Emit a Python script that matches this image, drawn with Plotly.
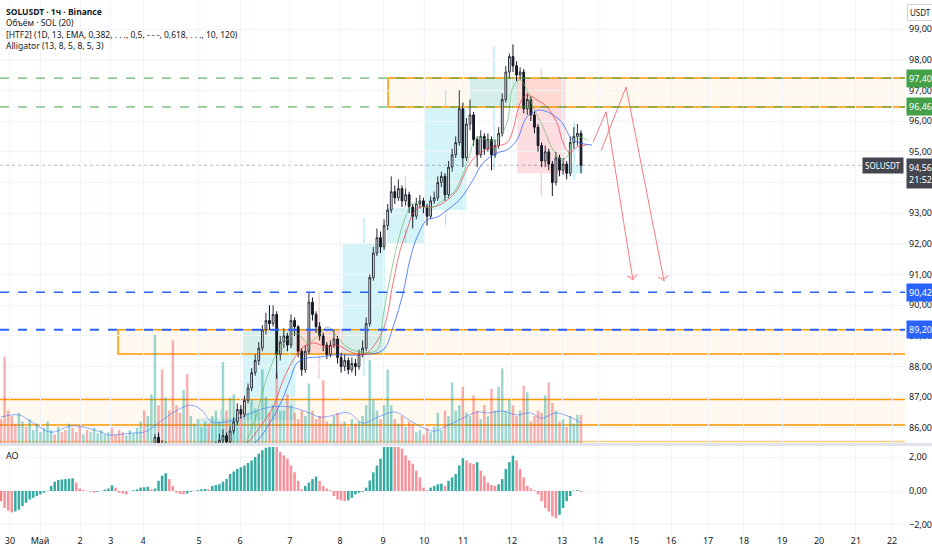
# SOLUSDT 1h chart (Binance) rebuilt from a TradingView screenshot
# bars are 2h buckets here

import plotly.graph_objects as go

# ---- candles ----
opens = [85.1, 84.9, 84.5, 84.2, 83.9, 83.8, 83.9, 84.1, 84.0, 84.3,
         84.5, 84.6, 84.8, 84.9, 85.1, 85.2, 85.0, 85.1, 84.9, 84.8,
         85.0, 84.9, 84.6, 84.4, 84.5, 84.3, 84.4, 84.5, 84.6, 84.7,
         84.8, 84.9, 84.7, 84.5, 84.4, 84.3, 84.5, 84.6, 84.7, 84.8,
         84.9, 84.8, 84.9, 85.0, 85.7, 85.2, 85.0, 85.3, 85.0, 84.7,
         84.5, 84.4, 84.5, 84.35, 84.7, 84.8, 84.9, 85.0, 85.1, 85.0,
         85.2, 85.4, 85.6, 85.75, 85.55, 85.9, 86.2, 86.6, 86.45, 86.9,
         87.3, 87.8, 88.2, 88.6, 89.2, 89.5, 89.4, 89.7, 88.4, 88.8,
         89.0, 88.7, 89.5, 89.3, 88.5, 87.9, 88.5, 90.1, 89.7, 89.3,
         89.0, 88.7, 88.4, 88.7, 88.9, 88.3, 88.0, 88.2, 87.9, 88.1,
         88.0, 88.4, 88.6, 89.4, 90.9, 91.7, 92.2, 91.9, 92.6, 93.1,
         93.7, 93.5, 93.8, 93.4, 93.6, 93.2, 92.9, 93.3, 93.4, 93.2,
         92.9, 93.4, 93.5, 94.0, 94.2, 93.6, 94.5, 94.9, 95.3, 96.4,
         94.8, 95.9, 96.2, 95.4, 94.9, 95.5, 95.1, 95.4, 94.9, 95.2,
         95.6, 96.7, 97.6, 98.1, 97.8, 97.5, 97.6, 96.4, 96.7, 96.2,
         95.8, 95.2, 94.7, 95.0, 94.6, 94.0, 94.8, 94.4, 94.6, 94.3,
         95.3, 95.5, 95.6]
highs = [85.3, 85.1, 84.7, 84.4, 84.1, 84.1, 84.3, 84.3, 84.5, 84.7,
         84.8, 85.0, 85.1, 85.3, 85.4, 85.4, 85.3, 85.3, 85.1, 85.2,
         85.2, 85.1, 84.8, 84.7, 84.7, 84.6, 84.7, 84.8, 84.9, 85.0,
         85.1, 85.1, 84.9, 84.7, 84.6, 84.7, 84.8, 84.9, 85.0, 85.1,
         85.1, 85.1, 85.2, 85.8, 85.85, 85.6, 85.55, 85.45, 85.2, 84.9,
         84.7, 84.7, 84.6, 84.9, 85.0, 85.1, 85.2, 85.3, 85.3, 85.4,
         85.55, 85.8, 85.95, 85.85, 86.05, 86.35, 86.8, 86.75, 87.05, 87.45,
         87.95, 88.4, 88.8, 89.35, 89.75, 90.0, 90.0, 89.8, 89.0, 89.25,
         89.1, 89.7, 89.6, 89.35, 88.6, 88.7, 90.4, 90.25, 89.8, 89.45,
         89.1, 88.8, 88.85, 89.2, 89.0, 88.45, 88.4, 88.3, 88.3, 88.25,
         88.55, 88.85, 89.6, 91.0, 91.9, 92.5, 92.4, 92.8, 93.3, 94.2,
         93.9, 94.1, 93.9, 93.8, 93.7, 93.3, 93.5, 93.6, 93.5, 93.3,
         93.55, 93.7, 94.2, 94.35, 94.3, 94.7, 95.1, 95.5, 97.0, 96.6,
         96.1, 96.7, 96.3, 95.5, 95.7, 95.6, 95.6, 95.5, 95.4, 95.8,
         96.9, 97.8, 98.2, 98.5, 97.95, 97.75, 97.7, 96.9, 96.8, 96.3,
         95.9, 95.3, 95.2, 95.1, 94.7, 95.0, 94.9, 94.8, 94.7, 95.5,
         95.8, 95.9, 95.7]
lows = [84.7, 84.3, 84.0, 83.7, 83.6, 83.6, 83.7, 83.8, 83.8, 84.1,
        84.3, 84.4, 84.6, 84.7, 84.9, 84.8, 84.8, 84.7, 84.6, 84.6,
        84.7, 84.4, 84.2, 84.2, 84.1, 84.1, 84.2, 84.3, 84.4, 84.5,
        84.6, 84.5, 84.3, 84.2, 84.1, 84.1, 84.3, 84.4, 84.5, 84.6,
        84.6, 84.6, 84.7, 84.9, 85.1, 84.8, 84.8, 84.8, 84.5, 84.3,
        84.2, 84.2, 84.15, 84.2, 84.5, 84.6, 84.7, 84.8, 84.8, 84.8,
        85.0, 85.3, 85.5, 85.4, 85.5, 85.8, 86.1, 86.3, 86.35, 86.8,
        87.2, 87.7, 88.05, 88.5, 89.05, 89.2, 89.3, 87.6, 88.2, 88.6,
        88.5, 88.6, 89.0, 88.3, 87.7, 87.8, 88.4, 89.5, 89.1, 88.85,
        88.5, 88.25, 88.3, 88.6, 88.1, 87.8, 87.85, 87.75, 87.8, 87.7,
        87.9, 88.3, 88.5, 89.3, 90.8, 91.6, 91.7, 91.8, 92.45, 93.0,
        93.3, 93.4, 93.2, 93.25, 93.0, 92.5, 92.8, 93.15, 93.0, 92.6,
        92.8, 93.3, 93.4, 93.85, 93.4, 93.5, 94.35, 94.8, 95.2, 94.5,
        94.7, 95.7, 95.2, 94.5, 94.8, 94.9, 95.0, 94.4, 94.8, 95.1,
        95.5, 96.6, 97.4, 97.6, 97.3, 97.35, 96.25, 96.2, 96.0, 95.6,
        95.0, 94.5, 94.5, 94.4, 93.56, 93.9, 94.2, 94.25, 94.1, 94.2,
        95.1, 95.2, 94.3]
closes = [84.9, 84.5, 84.2, 83.9, 83.8, 83.9, 84.1, 84.0, 84.3, 84.5,
          84.6, 84.8, 84.9, 85.1, 85.2, 85.0, 85.1, 84.9, 84.8, 85.0,
          84.9, 84.6, 84.4, 84.5, 84.3, 84.4, 84.5, 84.6, 84.7, 84.8,
          84.9, 84.7, 84.5, 84.4, 84.3, 84.5, 84.6, 84.7, 84.8, 84.9,
          84.8, 84.9, 85.0, 85.7, 85.2, 85.0, 85.3, 85.0, 84.7, 84.5,
          84.4, 84.5, 84.35, 84.7, 84.8, 84.9, 85.0, 85.1, 85.0, 85.2,
          85.4, 85.6, 85.75, 85.55, 85.9, 86.2, 86.6, 86.45, 86.9, 87.3,
          87.8, 88.2, 88.6, 89.2, 89.5, 89.4, 89.7, 88.4, 88.8, 89.0,
          88.7, 89.5, 89.3, 88.5, 87.9, 88.5, 90.1, 89.7, 89.3, 89.0,
          88.7, 88.4, 88.7, 88.9, 88.3, 88.0, 88.2, 87.9, 88.1, 88.0,
          88.4, 88.6, 89.4, 90.9, 91.7, 92.2, 91.9, 92.6, 93.1, 93.7,
          93.5, 93.8, 93.4, 93.6, 93.2, 92.9, 93.3, 93.4, 93.2, 92.9,
          93.4, 93.5, 94.0, 94.2, 93.6, 94.5, 94.9, 95.3, 96.4, 94.8,
          95.9, 96.2, 95.4, 94.9, 95.5, 95.1, 95.4, 94.9, 95.2, 95.6,
          96.7, 97.6, 98.1, 97.8, 97.5, 97.6, 96.4, 96.7, 96.2, 95.8,
          95.2, 94.7, 95.0, 94.6, 94.0, 94.8, 94.4, 94.6, 94.3, 95.3,
          95.5, 95.6, 94.56]

# volume, thousands SOL
volumes = [22, 80, 30, 25, 18, 28, 20, 15, 22, 12,
           18, 10, 14, 20, 12, 8, 15, 10, 12, 18,
           14, 10, 16, 8, 12, 10, 14, 9, 12, 8,
           10, 14, 8, 12, 10, 7, 12, 9, 14, 20,
           30, 25, 45, 100, 35, 68, 42, 30, 95, 35,
           28, 49, 64, 25, 18, 22, 15, 20, 18, 25,
           30, 20, 75, 30, 42, 45, 25, 30, 35, 28,
           40, 32, 30, 68, 43, 28, 35, 65, 30, 30,
           45, 35, 28, 22, 30, 25, 55, 30, 22, 25,
           58, 20, 18, 25, 28, 18, 20, 15, 22, 18,
           20, 25, 35, 77, 40, 30, 22, 35, 68, 35,
           22, 18, 25, 15, 20, 18, 10, 12, 8, 14,
           10, 15, 28, 12, 30, 25, 56, 30, 35, 52,
           28, 25, 44, 30, 22, 35, 25, 50, 30, 52,
           69, 30, 40, 35, 25, 30, 53, 47, 20, 25,
           30, 28, 44, 56, 37, 30, 20, 22, 15, 25,
           18, 26, 26]

# volume MA(20) read at a few bars
vol_ma_x = [0, 5, 9, 14, 20, 28, 30, 37, 40, 44, 48, 53, 56, 59, 65, 70, 74, 78, 82, 86,
            89, 92, 97, 101, 106, 110, 114, 118, 121, 125, 129, 133, 136, 140, 144, 148, 151, 155, 159, 162]
vol_ma = [24, 26, 18.5, 10, 16, 10, 7.5, 9.3, 10, 18.5, 28, 35, 30.5, 19.4, 21.3, 28, 32.4, 34, 32.4, 28,
          24, 25, 28, 18.5, 25, 28.7, 21.3, 13.9, 11, 16.7, 23, 28.7, 27.8, 29.6, 26, 27.8, 23, 27.8, 24, 18.5]

# Awesome Oscillator
ao = [-0.6, -1.0, -1.15, -1.26, -1.2, -1.1, -0.88, -0.7, -0.5, -0.4,
      -0.3, -0.2, -0.1, 0.02, 0.3, 0.55, 0.65, 0.68, 0.7, 0.72,
      0.75, 0.5, 0.15, 0.05, 0.02, -0.05, -0.1, -0.05, 0.01, 0.08,
      0.15, 0.34, 0.2, -0.1, -0.15, -0.2, 0.01, 0.05, 0.1, 0.2,
      0.22, 0.25, 0.1, 0.15, 0.6, 0.9, 1.05, 0.7, 0.3, -0.1,
      -0.18, -0.2, -0.15, -0.05, 0.01, 0.05, 0.1, 0.12, 0.1, 0.3,
      0.35, 0.4, 0.55, 0.7, 1.0, 1.15, 1.3, 1.4, 1.5, 1.65,
      1.8, 2.0, 2.2, 2.4, 2.55, 2.7, 2.8, 2.7, 2.3, 2.1,
      1.9, 1.5, 1.1, 0.6, 0.1, 0.3, 0.5, 0.7, 0.85, 0.6,
      0.3, 0.15, 0.05, -0.3, -0.5, -0.55, -0.6, -0.55, -0.4, -0.2,
      -0.1, -0.05, 0.2, 0.62, 1.1, 1.5, 1.9, 2.6, 2.8, 2.9,
      2.85, 2.75, 2.5, 2.1, 1.8, 1.6, 1.2, 0.8, 0.2, 0.05,
      0.2, 0.3, 0.4, 0.43, 0.3, 0.6, 0.8, 1.0, 1.5, 1.93,
      1.8, 1.65, 1.6, 1.7, 1.2, 0.9, 0.5, 0.35, 0.3, 0.4,
      0.7, 1.3, 1.7, 2.08, 1.8, 1.3, 0.8, 0.3, 0.15, 0.05,
      -0.2, -0.6, -1.0, -1.2, -1.5, -1.6, -1.4, -1.0, -0.6, -0.3,
      0.02, 0.05, -0.05]

# Alligator (13, 8, 5, 8, 5, 3)
jaw_x = [63, 70.9, 75.1, 78.5, 80.7, 82.7, 85.5, 89.1, 92.7, 100.3, 106.7, 109.5, 112.3, 114.2, 116.2,
         119, 121.8, 124.6, 128.2, 131.8, 134.6, 138.5, 141.3, 144.1, 146.9, 150.6, 156.1, 159.8, 165.1]
jaw = [85.0, 85.51, 86.16, 86.91, 87.56, 88.12, 88.28, 88.31, 88.38, 88.38, 88.54, 89.29, 90.40, 91.47, 92.22,
       92.78, 92.87, 93.10, 93.45, 94.08, 94.63, 94.96, 95.06, 95.38, 96.13, 96.36, 96.03, 95.38, 95.22]
teeth_x = [64.8, 68.7, 72.3, 76, 78.8, 81.6, 84.4, 87.2, 91.1, 93.9, 96.6, 100.3, 102.2, 106.7, 109.5,
           111.5, 113.4, 115.1, 117, 120.7, 123.5, 127.4, 129.1, 131, 133.8, 137.4, 141.3, 143, 145,
           146.9, 149.7, 152.5, 155.3, 157, 158.9, 160.9, 163.7]
teeth = [85.3, 85.51, 86.03, 86.68, 87.56, 88.21, 88.64, 88.77, 88.64, 88.70, 88.54, 88.38, 88.44, 89.19, 90.72,
         91.80, 92.45, 93.0, 93.2, 93.2, 93.33, 93.75, 94.18, 94.63, 94.96, 95.16, 95.29, 95.71, 96.59,
         96.85, 96.69, 96.46, 95.94, 95.29, 94.96, 95.16, 95.22]
lips_x = [68.2, 71.5, 74.3, 77.1, 79.9, 82.7, 85.5, 88.3, 91.1, 93.9, 96.6, 100.3, 105, 106.7, 108.7,
          111.5, 113.4, 115.1, 117.9, 120.7, 123.5, 126.3, 127.4, 130.2, 133, 135.8, 138.5, 141.3, 143,
          145, 146.9, 148.6, 151.4, 154.2, 156.7, 158.1, 159.8, 161.7, 163.7]
lips = [85.4, 86.49, 87.66, 88.44, 88.87, 89.09, 88.77, 88.96, 89.29, 88.96, 88.64, 88.48, 88.54, 89.62, 90.92,
        92.35, 93.0, 93.33, 93.2, 93.2, 93.43, 93.66, 93.85, 94.63, 95.48, 95.38, 95.38, 95.94, 97.11,
        97.34, 97.01, 96.46, 95.81, 95.06, 94.73, 94.83, 95.38, 95.48, 95.38]

# HTF (1D) candles drawn as boxes
htf_start = [55.3, 67.6, 82.2, 95.5, 107.8, 118.4, 131.0, 144.2, 157.6]
htf_end = [67.6, 82.2, 95.5, 107.3, 118.2, 130.0, 144.4, 157.6, 162.6]
htf_open = [84.9, 86.26, 89.2, 88.4, 92.0, 93.1, 96.46, 97.40, 94.3]
htf_close = [86.32, 89.2, 88.4, 92.0, 93.17, 96.45, 97.40, 94.3, 94.56]
htf_high = [86.6, 90.0, 90.4, 92.85, 94.2, 97.0, 98.45, 97.7, 95.95]
htf_low = [84.2, 85.6, 87.6, 87.7, 92.5, 92.6, 94.4, 93.56, 94.1]

# orange zones
zone_left = [108.1, 32.7, -1, -1]
zone_top = [97.40, 89.20, 86.93, 85.56]
zone_bottom = [96.46, 88.41, 86.10, 84.6]
zone_line = ['#FF9800', '#FF9800', '#FF9800', 'rgba(255,152,0,0.45)']

# horizontal levels
green_levels = [97.40, 96.46]
blue_levels = [90.42, 89.20]
last_price = 94.56

# projected path (drawn arrows)
proj_x = [[165.4, 169.0, 176.5], [167.6, 174.6, 185.2]]
proj_y = [[95.32, 96.30, 90.82], [95.03, 97.11, 90.79]]

# time axis labels
tick_pos = [2.5, 10.9, 22.1, 30.7, 39.7, 55.3, 66.8, 80.7, 94.7, 106.7, 118.2, 129.1,
            142.7, 156.7, 166.8, 176.8, 187.2, 197.5, 207.5, 218.2, 228.5, 238.8, 248.9]
tick_text = ['30', 'Май', '2', '3', '4', '5', '6', '7', '8', '9', '10', '11',
             '12', '13', '14', '15', '16', '17', '18', '19', '20', '21', '22']

bars = list(range(len(closes)))
x_range = [-0.28, 252.5]
FONT = 'Noto Sans, sans-serif'
TXT = '#131722'
GRID = '#f0f3fa'

vol_colors = ['rgba(38,166,154,0.45)' if c >= o else 'rgba(239,83,80,0.45)' for o, c in zip(opens, closes)]
ao_colors = ['rgba(239,83,80,0.75)'] + ['rgba(0,150,136,0.8)' if ao[i] >= ao[i - 1] else 'rgba(242,54,69,0.55)'
                                        for i in range(1, len(ao))]

fig = go.Figure()

fig.add_trace(go.Bar(x=bars, y=volumes, marker=dict(color=vol_colors, line=dict(width=0)),
                     xaxis='x', yaxis='y', hoverinfo='skip'))
fig.add_trace(go.Scatter(x=vol_ma_x, y=vol_ma, mode='lines', line=dict(color='rgba(41,98,255,0.5)', width=1, shape='spline'),
                         xaxis='x', yaxis='y', hoverinfo='skip'))

fig.add_trace(go.Candlestick(x=bars, open=opens, high=highs, low=lows, close=closes,
                             increasing=dict(line=dict(color='#2a2e39', width=1), fillcolor='white'),
                             decreasing=dict(line=dict(color='#131722', width=1), fillcolor='#131722'),
                             whiskerwidth=0, xaxis='x', yaxis='y3', hoverinfo='skip'))

for xs, ys, col in [(jaw_x, jaw, 'rgba(41,98,255,0.75)'), (teeth_x, teeth, 'rgba(242,54,69,0.7)'),
                    (lips_x, lips, 'rgba(102,187,106,0.7)')]:
    fig.add_trace(go.Scatter(x=xs, y=ys, mode='lines', line=dict(color=col, width=1, shape='spline'),
                             xaxis='x', yaxis='y3', hoverinfo='skip'))

for xs, ys in zip(proj_x, proj_y):
    fig.add_trace(go.Scatter(x=xs, y=ys, mode='lines+markers', line=dict(color='#f77c80', width=1),
                             marker=dict(symbol='arrow-wide-open', size=[0, 0, 7], angleref='previous',
                                         color='#f77c80', line=dict(color='#f77c80', width=[0, 0, 1])),
                             xaxis='x', yaxis='y3', hoverinfo='skip'))

fig.add_trace(go.Bar(x=bars, y=ao, marker=dict(color=ao_colors, line=dict(width=0)),
                     xaxis='x2', yaxis='y2', hoverinfo='skip'))

shapes = []
# HTF boxes and wicks
for s, e, o, c, h, l in zip(htf_start, htf_end, htf_open, htf_close, htf_high, htf_low):
    up = c >= o
    fill = 'rgba(0,188,212,0.17)' if up else 'rgba(242,54,69,0.17)'
    wick = 'rgba(0,188,212,0.4)' if up else 'rgba(242,54,69,0.35)'
    mid = (s + e) / 2
    shapes.append(dict(type='rect', xref='x', yref='y3', x0=s, x1=e, y0=o, y1=c,
                       fillcolor=fill, line=dict(width=0), layer='below'))
    shapes.append(dict(type='line', xref='x', yref='y3', x0=mid, x1=mid, y0=max(o, c), y1=h,
                       line=dict(color=wick, width=1), layer='below'))
    shapes.append(dict(type='line', xref='x', yref='y3', x0=mid, x1=mid, y0=min(o, c), y1=l,
                       line=dict(color=wick, width=1), layer='below'))

# zones
for left, top, bottom, lc in zip(zone_left, zone_top, zone_bottom, zone_line):
    shapes.append(dict(type='rect', xref='x', yref='y3', x0=left, x1=x_range[1] + 5, y0=bottom, y1=top,
                       fillcolor='rgba(255,152,0,0.06)', line=dict(color=lc, width=1.5), layer='below'))

# last price line
shapes.append(dict(type='line', xref='paper', yref='y3', x0=0, x1=1, y0=last_price, y1=last_price,
                   line=dict(color='#b2b5be', width=1, dash='dot'), layer='below'))
for lv in green_levels:
    shapes.append(dict(type='line', xref='paper', yref='y3', x0=0, x1=1, y0=lv, y1=lv,
                       line=dict(color='#43a047', width=1, dash='dash')))
for lv, w in zip(blue_levels, [1.5, 2]):
    shapes.append(dict(type='line', xref='paper', yref='y3', x0=0, x1=1, y0=lv, y1=lv,
                       line=dict(color='#2962FF', width=w, dash='dash')))

# pane separator
shapes.append(dict(type='line', xref='paper', yref='paper', x0=0, x1=932 / 905, y0=1 - 444.5 / 534, y1=1 - 444.5 / 534,
                   line=dict(color='#e0e3eb', width=3)))

annotations = []
legend_lines = ['<b>SOLUSDT · 1ч · Binance</b>', 'Объём · SOL (20)',
                '[HTF2] (1D, 13, EMA, 0,382, . . ., 0,5, - - -, 0,618, . . ., 10, 120)',
                'Alligator (13, 8, 5, 8, 5, 3)']
for k, t in enumerate(legend_lines):
    annotations.append(dict(text=t, xref='paper', yref='paper', x=4 / 905, y=1 - (11 + 11.6 * k) / 534,
                            xanchor='left', yanchor='middle', showarrow=False,
                            font=dict(family=FONT, size=8.5, color=TXT)))
annotations.append(dict(text='AO', xref='paper', yref='paper', x=4 / 905, y=1 - 455 / 534,
                        xanchor='left', yanchor='middle', showarrow=False, font=dict(family=FONT, size=9, color=TXT)))


def fmt(v):
    return f'{v:.2f}'.replace('.', ',')


for lv in green_levels:
    annotations.append(dict(text=fmt(lv), xref='paper', yref='y3', x=1, y=lv, xanchor='left', yanchor='middle',
                            showarrow=False, bgcolor='#43a047', borderpad=2, xshift=1,
                            font=dict(family=FONT, size=9, color='white')))
for lv in blue_levels:
    annotations.append(dict(text=fmt(lv), xref='paper', yref='y3', x=1, y=lv, xanchor='left', yanchor='middle',
                            showarrow=False, bgcolor='#2962FF', borderpad=2, xshift=1,
                            font=dict(family=FONT, size=9, color='white')))
annotations.append(dict(text=fmt(last_price) + '<br>21:52', xref='paper', yref='y3', x=1, y=last_price,
                        xanchor='left', yanchor='top', yshift=7, showarrow=False, bgcolor='#43464f', borderpad=2,
                        xshift=1, font=dict(family=FONT, size=9, color='white')))
annotations.append(dict(text='SOLUSDT', xref='paper', yref='y3', x=1, y=last_price, xanchor='right', yanchor='middle',
                        showarrow=False, bgcolor='#43464f', borderpad=2, xshift=-1,
                        font=dict(family=FONT, size=8, color='white')))
annotations.append(dict(text='USDT', xref='paper', yref='paper', x=1, y=1 - 4 / 534, xanchor='left', yanchor='top',
                        showarrow=False, bordercolor='#d1d4dc', borderwidth=1, borderpad=2, xshift=2,
                        bgcolor='white', font=dict(family=FONT, size=8, color=TXT)))

main_dom = [1 - 443 / 534, 1]
ao_dom = [0, 1 - 447 / 534]

fig.update_layout(
    width=932, height=550,
    margin=dict(l=0, r=27, t=0, b=16),
    paper_bgcolor='white', plot_bgcolor='white',
    showlegend=False, separators=',.', bargap=0.3,
    font=dict(family=FONT, size=9, color=TXT),
    xaxis=dict(domain=[0, 1], anchor='y', range=x_range, tickvals=tick_pos, ticktext=tick_text,
               showticklabels=False, showgrid=True, gridcolor=GRID, zeroline=False,
               rangeslider=dict(visible=False)),
    yaxis=dict(domain=main_dom, anchor='x', range=[0, 410], visible=False, showgrid=False),
    yaxis3=dict(overlaying='y', anchor='x', side='right', range=[85.51, 99.945], dtick=1, tick0=0,
                tickformat='.2f', showgrid=True, gridcolor=GRID, zeroline=False, ticks='',
                ticklabelstandoff=3, tickfont=dict(family=FONT, size=9, color=TXT)),
    xaxis2=dict(domain=[0, 1], anchor='y2', matches='x', range=x_range, tickvals=tick_pos, ticktext=tick_text,
                showgrid=True, gridcolor=GRID, zeroline=False, ticks='',
                tickfont=dict(family=FONT, size=9, color=TXT)),
    yaxis2=dict(domain=ao_dom, anchor='x2', side='right', range=[-2.53, 2.59], tickvals=[-2, 0, 2],
                tickformat='.2f', showgrid=True, gridcolor=GRID, zeroline=False, ticks='',
                ticklabelstandoff=3, tickfont=dict(family=FONT, size=9, color=TXT)),
    shapes=shapes,
    annotations=annotations,
)

# drop the browser's default 8px body margin so the chart sits at the page corner
fig.write_html("out.html", config={'displayModeBar': False},
               post_script="document.body.style.margin='0';")
